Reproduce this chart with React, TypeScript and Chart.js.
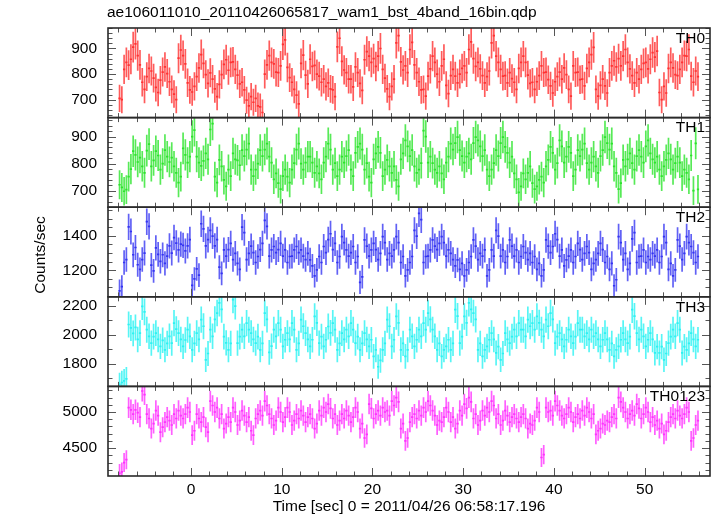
import React, { useEffect, useRef } from "react";
import { Chart, registerables } from "chart.js";

Chart.register(...registerables);

const TITLE = "ae106011010_20110426065817_wam1_bst_4band_16bin.qdp";
const X_TITLE = "Time [sec] 0 = 2011/04/26 06:58:17.196";
const Y_TITLE = "Counts/sec";
const PANEL_NAMES = ["TH0", "TH1", "TH2", "TH3", "TH0123"];

const T_START = -8; // left edge of first bin (sec)
const BIN = 0.25; // bin width (sec)

const TH0 = [
  705, 700, 818, 846, 835, 858, 905, 918, 872, 836, 768, 740, 790, 822, 812, 784, 748, 728, 776, 808,
  828, 802, 770, 740, 722, 700, 862, 894, 872, 840, 766, 738, 730, 752, 790, 824, 876, 842, 798, 764,
  805, 780, 742, 712, 760, 798, 838, 856, 815, 846, 848, 818, 796, 762, 768, 738, 698, 676, 712, 690,
  705, 676, 672, 650, 800, 836, 872, 846, 840, 808, 806, 832, 916, 934, 826, 786, 768, 740, 718, 684,
  842, 874, 796, 762, 858, 830, 834, 800, 792, 768, 780, 752, 766, 742, 738, 712, 906, 940, 850, 816,
  806, 780, 780, 750, 828, 806, 764, 736, 856, 888, 870, 846, 860, 830, 870, 900, 818, 784, 742, 712,
  752, 780, 922, 950, 848, 816, 832, 806, 896, 924, 836, 806, 770, 738, 740, 714, 792, 820, 870, 846,
  800, 770, 832, 858, 756, 724, 794, 818, 792, 766, 800, 822, 832, 806, 896, 926, 860, 830, 846, 820,
  794, 766, 790, 812, 922, 950, 870, 846, 818, 792, 794, 766, 806, 782, 768, 740, 822, 846, 870, 846,
  796, 764, 768, 740, 770, 794, 832, 806, 808, 778, 754, 726, 770, 790, 808, 780, 824, 798, 740, 714,
  832, 806, 808, 778, 780, 754, 822, 846, 876, 904, 740, 714, 756, 780, 754, 726, 806, 832, 852, 828,
  860, 832, 870, 896, 846, 820, 794, 766, 806, 780, 818, 842, 846, 820, 858, 884, 866, 890, 728, 700,
  752, 726, 822, 846, 824, 798, 794, 818, 846, 872, 870, 896, 792, 768, 812, 790,
];
const TH1 = [
  722, 712, 698, 704, 752, 780, 846, 832, 806, 822, 790, 766, 848, 872, 790, 812, 846, 830, 778, 800,
  850, 826, 806, 822, 790, 766, 730, 752, 856, 832, 804, 826, 900, 924, 826, 804, 792, 810, 838, 816,
  926, 948, 752, 730, 814, 790, 740, 716, 778, 754, 838, 816, 812, 794, 850, 828, 852, 874, 778, 754,
  778, 800, 850, 828, 852, 874, 826, 804, 742, 764, 728, 706, 754, 778, 752, 730, 778, 802, 852, 874,
  800, 778, 804, 826, 826, 804, 766, 790, 764, 742, 804, 826, 874, 852, 778, 802, 754, 778, 826, 804,
  828, 850, 778, 754, 840, 862, 874, 852, 778, 802, 752, 730, 816, 838, 862, 840, 754, 778, 814, 790,
  766, 790, 740, 716, 816, 838, 886, 864, 828, 850, 790, 766, 778, 802, 922, 900, 804, 826, 802, 778,
  766, 790, 764, 742, 804, 826, 874, 852, 876, 898, 850, 828, 804, 826, 838, 816, 876, 898, 886, 864,
  828, 850, 778, 754, 778, 802, 850, 828, 876, 898, 862, 840, 804, 826, 764, 742, 694, 716, 764, 742,
  766, 790, 728, 706, 716, 740, 752, 730, 790, 814, 862, 840, 778, 802, 886, 864, 804, 826, 862, 840,
  754, 778, 850, 828, 852, 874, 802, 778, 804, 826, 790, 766, 828, 850, 898, 876, 852, 874, 790, 766,
  706, 728, 814, 790, 816, 838, 802, 778, 828, 850, 826, 804, 864, 886, 838, 816, 804, 826, 778, 754,
  790, 814, 838, 816, 778, 802, 826, 804, 754, 778, 766, 742, 830, 700, 875, 705,
];
const TH2 = [
  1080, 1105, 1245, 1262, 1452, 1425, 1290, 1332, 1232, 1205, 1262, 1300, 1482, 1455, 1230, 1196, 1330, 1292, 1252, 1290,
  1240, 1282, 1342, 1300, 1390, 1358, 1318, 1352, 1345, 1312, 1342, 1378, 1112, 1150, 1208, 1172, 1470, 1440, 1342, 1378,
  1432, 1398, 1342, 1378, 1218, 1182, 1318, 1282, 1320, 1356, 1262, 1298, 1240, 1205, 1450, 1418, 1262, 1298, 1340, 1302,
  1245, 1280, 1320, 1356, 1490, 1455, 1282, 1318, 1338, 1302, 1320, 1356, 1282, 1318, 1245, 1280, 1282, 1318, 1338, 1302,
  1318, 1282, 1262, 1298, 1260, 1225, 1168, 1202, 1280, 1245, 1338, 1302, 1378, 1412, 1320, 1356, 1245, 1280, 1395, 1360,
  1318, 1282, 1302, 1338, 1245, 1280, 1130, 1162, 1376, 1340, 1282, 1318, 1356, 1320, 1262, 1298, 1395, 1360, 1262, 1298,
  1282, 1318, 1395, 1360, 1245, 1280, 1168, 1202, 1245, 1280, 1432, 1398, 1530, 1494, 1245, 1280, 1282, 1318, 1376, 1340,
  1320, 1356, 1395, 1360, 1282, 1318, 1298, 1262, 1225, 1260, 1205, 1240, 1168, 1202, 1245, 1280, 1376, 1340, 1262, 1298,
  1282, 1318, 1168, 1202, 1318, 1282, 1432, 1398, 1282, 1318, 1245, 1280, 1376, 1340, 1282, 1318, 1245, 1280, 1338, 1302,
  1262, 1298, 1245, 1280, 1205, 1240, 1168, 1202, 1376, 1340, 1302, 1338, 1412, 1378, 1282, 1318, 1225, 1260, 1282, 1318,
  1245, 1280, 1356, 1320, 1262, 1298, 1338, 1302, 1205, 1240, 1262, 1298, 1356, 1320, 1245, 1280, 1205, 1240, 1110, 1145,
  1395, 1360, 1262, 1298, 1205, 1240, 1382, 1418, 1245, 1280, 1282, 1318, 1245, 1280, 1262, 1298, 1282, 1318, 1245, 1280,
  1395, 1360, 1205, 1240, 1168, 1202, 1376, 1340, 1262, 1298, 1395, 1360, 1338, 1302, 1245, 1280,
];
const TH3 = [
  1655, 1668, 1680, 1694, 2072, 2048, 2010, 2052, 1968, 2012, 2198, 2160, 2036, 1990, 1942, 1988, 2012, 1968, 1920, 1962,
  1896, 1940, 1990, 1942, 2082, 2040, 2012, 1968, 1920, 1964, 2036, 1990, 1896, 1940, 2012, 1968, 2106, 2060, 1826, 1870,
  2036, 1990, 2108, 2152, 2222, 2178, 1988, 1944, 1896, 1940, 2246, 2200, 1942, 1988, 2036, 1990, 2082, 2036, 2012, 1968,
  1942, 1988, 1896, 1940, 2152, 2108, 1878, 1922, 2036, 1990, 2082, 2036, 1920, 1966, 2012, 1968, 2082, 2036, 1896, 1940,
  2106, 2060, 2012, 1968, 1920, 1966, 2128, 2084, 1942, 1988, 1920, 1966, 2058, 2014, 2082, 2036, 1896, 1940, 2012, 1968,
  2036, 1990, 2082, 2036, 1942, 1988, 1896, 1940, 2012, 1968, 1920, 1966, 1850, 1896, 1778, 1822, 1896, 1940, 2106, 2060,
  1920, 1966, 2128, 2084, 1896, 1940, 1850, 1896, 2036, 1990, 1920, 1966, 2036, 1990, 2082, 2036, 2152, 2108, 2036, 1990,
  1896, 1940, 1850, 1896, 1920, 1966, 1896, 1940, 2176, 2130, 1942, 1988, 2128, 2084, 2222, 2178, 2152, 2108, 1896, 1940,
  1850, 1896, 1920, 1966, 2012, 1968, 1874, 1918, 1826, 1870, 2012, 1968, 1942, 1988, 2036, 1990, 2082, 2036, 2036, 1990,
  2106, 2060, 2082, 2036, 2128, 2084, 2036, 1990, 2106, 2060, 2152, 2108, 1942, 1988, 2012, 1968, 1920, 1966, 2036, 1990,
  1942, 1988, 2082, 2036, 2036, 1990, 2012, 1968, 2036, 1990, 2012, 1968, 1920, 1966, 2012, 1968, 1896, 1940, 1850, 1896,
  1920, 1966, 2012, 1968, 1942, 1988, 2176, 2130, 2012, 1968, 2036, 1990, 1920, 1966, 2012, 1968, 1874, 1918, 1874, 1918,
  1826, 1870, 1942, 1988, 2036, 1990, 2082, 2036, 1874, 1918, 1896, 1940, 2012, 1968, 1920, 1966,
];
const TH0123 = [
  4150, 4170, 4300, 4340, 5060, 5030, 4970, 5030, 4990, 4930, 5290, 5240, 4970, 4910, 4770, 4840, 5020, 4950, 4720, 4790,
  4860, 4930, 4880, 4820, 4970, 4910, 5020, 4950, 4910, 4970, 5060, 5000, 4680, 4740, 4970, 4910, 4860, 4930, 4790, 4720,
  5150, 5090, 5000, 5060, 4910, 4970, 4770, 4840, 4930, 4860, 5060, 5000, 4820, 4880, 5020, 4950, 4860, 4930, 4740, 4680,
  4910, 4970, 5020, 4950, 5150, 5090, 4970, 4910, 4820, 4880, 5060, 5000, 4860, 4930, 5060, 5000, 4820, 4880, 4970, 4910,
  5020, 4950, 4860, 4930, 4970, 4910, 4770, 4840, 5020, 4950, 5060, 5000, 5110, 5050, 4910, 4970, 4820, 4880, 4970, 4910,
  5020, 4950, 4860, 4930, 5060, 5000, 4770, 4840, 4640, 4690, 5110, 5050, 4910, 4970, 5020, 4950, 5060, 5000, 5020, 4950,
  5150, 5090, 5200, 5140, 4770, 4840, 4600, 4640, 4860, 4930, 4970, 4910, 5020, 4950, 5060, 5000, 5150, 5090, 5020, 4950,
  4820, 4880, 4860, 4930, 5060, 5000, 4860, 4930, 4770, 4840, 5020, 4950, 5110, 5050, 5200, 5140, 4910, 4970, 4820, 4880,
  5020, 4950, 5060, 5000, 5150, 5090, 4910, 4970, 4820, 4880, 5020, 4950, 4860, 4930, 4970, 4910, 4860, 4930, 4970, 4910,
  4770, 4840, 4820, 4880, 5060, 5000, 4370, 4410, 5060, 5000, 5020, 4950, 5150, 5090, 5020, 4950, 4910, 4970, 5060, 5000,
  4860, 4930, 4970, 4910, 5020, 4950, 5060, 5000, 4910, 4970, 4690, 4740, 4770, 4840, 4820, 4880, 4860, 4930, 4970, 4910,
  5200, 5140, 5060, 5000, 4910, 4970, 5020, 4950, 5110, 5050, 4910, 4970, 5060, 5000, 4860, 4930, 4820, 4880, 4770, 4840,
  4690, 4740, 4860, 4930, 4970, 4910, 5020, 4950, 4910, 4970, 5060, 5000, 4600, 4640, 4820, 4880,
];

const SERIES = [TH0, TH1, TH2, TH3, TH0123];
const LINE_COLORS = ["#ff3232", "#2ce42c", "#3434f2", "#2cf2f2", "#ff32ff"];
const BAR_COLORS = [
  "rgba(255,45,45,0.78)",
  "rgba(40,228,40,0.78)",
  "rgba(52,52,242,0.78)",
  "rgba(40,242,242,0.78)",
  "rgba(255,50,255,0.78)",
];

const X_MIN = -9.15;
const X_MAX = 57.2;
const X_LABELS = [0, 10, 20, 30, 40, 50];
const X_MAJOR = 10;
const X_MINOR = 2;
const Y_MIN = [630, 639, 1046, 1641, 4114];
const Y_MAX = [980, 970, 1566, 2265, 5354];
const Y_LABELS = [
  [700, 800, 900],
  [700, 800, 900],
  [1200, 1400],
  [1800, 2000, 2200],
  [4500, 5000],
];
const Y_MAJOR = [100, 100, 200, 200, 500];
const Y_MINOR = [20, 20, 50, 100, 100];

const FONT_FAMILY = '"Liberation Sans", Arial, sans-serif';
const FONT = "15.5px " + FONT_FAMILY;

const panelsPlugin = {
  id: "qdpPanels",
  afterDatasetsDraw(chart: any) {
    const ctx = chart.ctx as CanvasRenderingContext2D;
    const xs = chart.scales.x;
    chart.data.datasets.forEach((ds: any, di: number) => {
      const ys = chart.scales["y" + di];
      ctx.save();
      ctx.beginPath();
      ctx.rect(xs.left, ys.top, xs.right - xs.left, ys.bottom - ys.top);
      ctx.clip();
      // vertical error bars
      ctx.strokeStyle = BAR_COLORS[di];
      ctx.lineWidth = 1.7;
      ctx.beginPath();
      ds.data.forEach((p: any) => {
        const px = xs.getPixelForValue(p.x);
        ctx.moveTo(px, ys.getPixelForValue(p.y + p.e));
        ctx.lineTo(px, ys.getPixelForValue(p.y - p.e));
      });
      ctx.stroke();
      // horizontal bin bars
      ctx.strokeStyle = LINE_COLORS[di];
      ctx.lineWidth = 1.7;
      ctx.beginPath();
      ds.data.forEach((p: any) => {
        const py = ys.getPixelForValue(p.y);
        ctx.moveTo(xs.getPixelForValue(p.x - BIN / 2), py);
        ctx.lineTo(xs.getPixelForValue(p.x + BIN / 2), py);
      });
      ctx.stroke();
      ctx.restore();
    });

    // inward ticks and frames
    ctx.save();
    ctx.strokeStyle = "#555";
    ctx.lineWidth = 1;
    for (let di = 0; di < SERIES.length; di++) {
      const ys = chart.scales["y" + di];
      const top = ys.top;
      const bot = ys.bottom;
      ctx.beginPath();
      for (let t = Math.ceil(X_MIN / X_MINOR) * X_MINOR; t <= X_MAX; t += X_MINOR) {
        const px = Math.round(xs.getPixelForValue(t)) + 0.5;
        const len = Math.abs(t % X_MAJOR) < 1e-9 ? 8 : 4.5;
        ctx.moveTo(px, top);
        ctx.lineTo(px, top + len);
        ctx.moveTo(px, bot);
        ctx.lineTo(px, bot - len);
      }
      const step = Y_MINOR[di];
      for (let v = Math.ceil(Y_MIN[di] / step) * step; v <= Y_MAX[di]; v += step) {
        const py = Math.round(ys.getPixelForValue(v)) + 0.5;
        const len = Math.abs(v % Y_MAJOR[di]) < 1e-9 ? 8 : 4.5;
        ctx.moveTo(xs.left, py);
        ctx.lineTo(xs.left + len, py);
        ctx.moveTo(xs.right, py);
        ctx.lineTo(xs.right - len, py);
      }
      ctx.stroke();
    }
    ctx.strokeStyle = "#2a2a2a";
    ctx.lineWidth = 1.6;
    for (let di = 0; di < SERIES.length; di++) {
      const ys = chart.scales["y" + di];
      ctx.strokeRect(xs.left, ys.top, xs.right - xs.left, ys.bottom - ys.top);
    }
    ctx.restore();
  },
  afterDraw(chart: any) {
    const ctx = chart.ctx as CanvasRenderingContext2D;
    const xs = chart.scales.x;
    ctx.save();
    ctx.font = FONT;
    ctx.fillStyle = "#000";
    ctx.textBaseline = "middle";
    ctx.textAlign = "left";
    ctx.fillText(TITLE, 107, 13);
    ctx.textAlign = "center";
    ctx.fillText(X_TITLE, (xs.left + xs.right) / 2, 507);
    ctx.textAlign = "right";
    for (let di = 0; di < SERIES.length; di++) {
      const ys = chart.scales["y" + di];
      ctx.fillText(PANEL_NAMES[di], xs.right - 5, ys.top + 10.5);
    }
    ctx.translate(41, 255);
    ctx.rotate(-Math.PI / 2);
    ctx.textAlign = "center";
    ctx.fillText(Y_TITLE, 0, 0);
    ctx.restore();
  },
};

export default function App() {
  const canvasRef = useRef<HTMLCanvasElement | null>(null);

  useEffect(() => {
    const canvas = canvasRef.current;
    if (!canvas) return;
    const datasets = SERIES.map((vals, di) => ({
      label: PANEL_NAMES[di],
      yAxisID: "y" + di,
      data: vals.map((v, i) => ({
        x: T_START + BIN * (i + 0.5),
        y: v,
        e: Math.sqrt(v / BIN),
      })),
      showLine: false,
      pointRadius: 0,
      borderColor: LINE_COLORS[di],
      backgroundColor: LINE_COLORS[di],
    }));

    const tickFont = { family: FONT_FAMILY, size: 15.5 };
    const scales: any = {
      x: {
        type: "linear",
        position: "bottom",
        min: X_MIN,
        max: X_MAX,
        afterBuildTicks: (s: any) => {
          s.ticks = X_LABELS.map((v) => ({ value: v }));
        },
        ticks: {
          color: "#000",
          font: tickFont,
          padding: 4,
          maxRotation: 0,
          autoSkip: false,
          callback: (v: any) => String(v),
        },
        grid: { display: false, drawTicks: false },
        border: { display: false },
        afterFit: (s: any) => {
          s.height = 40;
        },
      },
    };
    // declared bottom-to-top (left stacks place the last declared on top)
    for (let di = SERIES.length - 1; di >= 0; di--) {
      const labels = Y_LABELS[di];
      scales["y" + di] = {
        type: "linear",
        position: "left",
        stack: "panels",
        stackWeight: 1,
        min: Y_MIN[di],
        max: Y_MAX[di],
        afterBuildTicks: (s: any) => {
          s.ticks = labels.map((v) => ({ value: v }));
        },
        ticks: {
          color: "#000",
          font: tickFont,
          padding: 11,
          autoSkip: false,
          callback: (v: any) => String(v),
        },
        grid: { display: false, drawTicks: false },
        border: { display: false },
        afterFit: (s: any) => {
          s.width = 108;
        },
      };
    }

    const chart = new Chart(canvas, {
      type: "line",
      data: { datasets },
      options: {
        responsive: false,
        animation: false,
        devicePixelRatio: 1,
        layout: { padding: { top: 28, right: 7, left: 0, bottom: 0 } },
        plugins: { legend: { display: false }, tooltip: { enabled: false }, title: { display: false } },
        scales,
      },
      plugins: [panelsPlugin],
    });
    return () => chart.destroy();
  }, []);

  return (
    <div style={{ position: "fixed", left: 0, top: 0, width: 717, height: 516, background: "#fff" }}>
      <canvas ref={canvasRef} width={717} height={516} style={{ width: 717, height: 516, display: "block" }} />
    </div>
  );
}
